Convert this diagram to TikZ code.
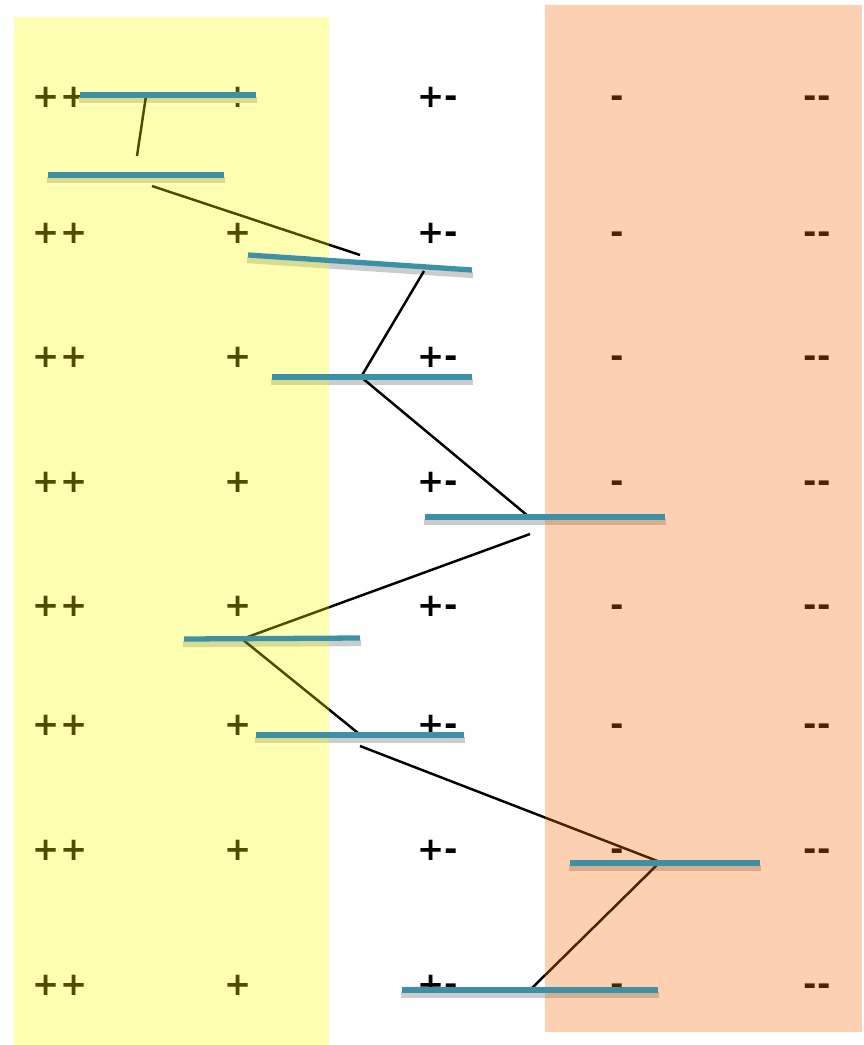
\documentclass[tikz,border=0pt]{standalone}
\usepackage{fontspec}
\setsansfont{DejaVu Sans}
\usepackage{xcolor}
\usetikzlibrary{positioning, calc}
\definecolor{barteal}{RGB}{58,146,170}
\definecolor{zoneyellow}{RGB}{255,255,0}
\definecolor{zoneorange}{RGB}{246,108,8}

\begin{document}
\begin{tikzpicture}[
						x=0.01cm, y=-0.01cm,
						sign/.style={font=\sffamily\bfseries\fontsize{9.2}{11}\selectfont, inner sep=0pt, anchor=base},
						bar/.style={draw=barteal, line width=1.5pt},
						barshadow/.style={draw=black!20, line width=1.8pt},
						link/.style={draw, line width=0.7pt},
						zone/.style={fill opacity=0.3}
						]
						\useasboundingbox (0,0) rectangle (864,1045);
						
						% rows of signs
						\foreach \r/\y in {1/97, 2/233, 3/357, 4/482, 5/606, 6/725, 7/850, 8/985} {
							\node [sign] (pp\r) at (60,\y+10) {++};
							\node [sign] (p\r) at (238,\y+10) {+};
							\node [sign] (pm\r) at (438,\y+10) {+-};
							\node [sign] (m\r) at (617,\y+10) {-};
							\node [sign] (mm\r) at (817,\y+10) {-{}-};
						}
						
						% bar ends and their shadows
						\foreach \b/\xa/\ya/\xb/\yb in {b1/80/95/256/95, b2/48/175/224/175, b3/248/255/472/270, b4/272/377/472/377, b5/425/517/665/517, b6/184/639/360/638, b7/256/735/464/735, b8/570/863/760/863, b9/402/990/658/990} {
							\coordinate (\b-l) at (\xa,\ya);
							\coordinate (\b-r) at (\xb,\yb);
							\draw [barshadow] ($(\b-l)+(-1,5)$) -- ($(\b-r)+(1,5)$);
						}
						
						% links between bars
						\coordinate (j1) at (146,96);
						\coordinate (j2) at (137,156);
						\coordinate (j3) at (152,186);
						\coordinate (j4) at (360,255);
						\coordinate (j5) at (424,271);
						\coordinate (j6) at (361,377);
						\coordinate (j7) at (528,516);
						\coordinate (j8) at (530,534);
						\coordinate (j9) at (242,639);
						\coordinate (j10) at (358,733);
						\coordinate (j11) at (360,746);
						\coordinate (j12) at (660,862);
						\coordinate (j13) at (530,990);
						
						\draw [link] (j1) -- (j2);
						\draw [link] (j3) -- (j4);
						\draw [link] (j5) -- (j6);
						\draw [link] (j6) -- (j7);
						\draw [link] (j8) -- (j9);
						\draw [link] (j9) -- (j10);
						\draw [link] (j11) -- (j12);
						\draw [link] (j12) -- (j13);
						
						% tinted zones
						\fill [zone, zoneyellow] (14,17) rectangle (329,1045);
						\fill [zone, zoneorange, fill opacity=0.32] (545,5) rectangle (862,1032);
						
						% bars on top
						\foreach \b in {b1, b2, b3, b4, b5, b6, b7, b8, b9} {
							\draw [bar] (\b-l) -- (\b-r);
						}
					\end{tikzpicture}
\end{document}
